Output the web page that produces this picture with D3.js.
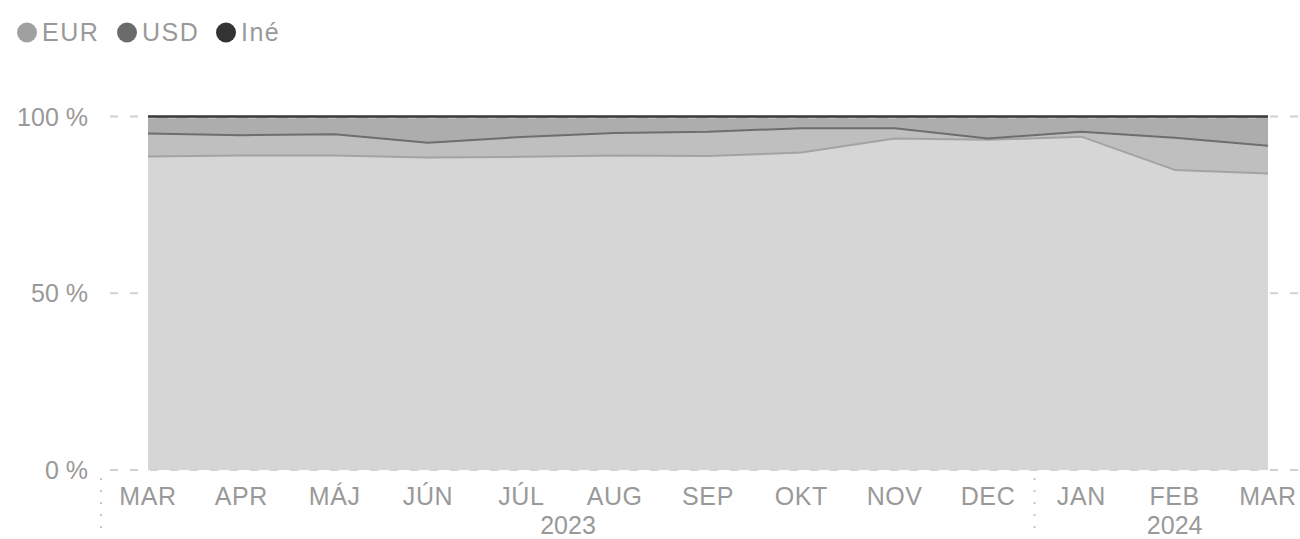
<!DOCTYPE html>
<html><head><meta charset="utf-8">
<script src="https://cdn.jsdelivr.net/npm/d3@7"></script>
<style>
html,body{margin:0;padding:0;background:#fff;}
svg{display:block;font-family:"Liberation Sans",Arial,sans-serif;}
</style></head>
<body><svg id="c" width="1300" height="539"></svg>
<script>
const months = ["MAR","APR","MÁJ","JÚN","JÚL","AUG","SEP","OKT","NOV","DEC","JAN","FEB","MAR"];
const years = [{label:"2023", from:0, to:9}, {label:"2024", from:10, to:12}];
const seriesNames = ["EUR","USD","Iné"];
const eur = [88.7, 89.0, 89.0, 88.4, 88.6, 89.0, 88.8, 89.8, 93.8, 93.4, 94.3, 84.9, 83.9];
const usd = [6.5, 5.7, 6.0, 4.2, 5.6, 6.3, 6.9, 6.9, 2.9, 0.4, 1.4, 9.1, 7.8];
const ine = [4.8, 5.3, 5.0, 7.4, 5.8, 4.7, 4.3, 3.3, 3.3, 6.2, 4.3, 6.0, 8.3];
const yTicks = [0, 50, 100];

const areaColors = ["#d6d6d6", "#bfbfbf", "#adadad"];
const lineColors = ["#a3a3a3", "#6e6e6e", "#3a3a3a"];
const dotColors = ["#a0a0a0", "#6b6b6b", "#333333"];
const textColor = "#999999";

const svg = d3.select("#c");
const rows = months.map((m, i) => ({i, EUR: eur[i], USD: usd[i], "Iné": ine[i]}));
const stack = d3.stack().keys(seriesNames).order(d3.stackOrderNone).offset(d3.stackOffsetNone);
const stacked = stack(rows);

const x = d3.scaleLinear().domain([0, months.length - 1]).range([148, 1268]);
const y = d3.scaleLinear().domain([0, 100]).range([470, 116.5]);

// gridlines
const grid = svg.append("g");
yTicks.forEach(t => {
  grid.append("line").attr("x1", 110).attr("x2", 1300).attr("y1", y(t)).attr("y2", y(t))
    .attr("stroke", "#d0d0d0").attr("stroke-width", 2).attr("stroke-dasharray", "8,12");
});

const area = d3.area().x((d, i) => x(i)).y0(d => y(d[0])).y1(d => y(d[1]));
const line = d3.line().x((d, i) => x(i)).y(d => y(d[1]));

svg.append("g").selectAll("path").data(stacked).join("path")
  .attr("d", area).attr("fill", (d, i) => areaColors[i]);

// 100% grid visible over top
svg.append("line").attr("x1", x(0)).attr("x2", x(12)).attr("y1", y(100)+1.5).attr("y2", y(100)+1.5)
  .attr("stroke", "#c4c4c4").attr("stroke-width", 1.5).attr("stroke-dasharray", "8,12");

svg.append("g").selectAll("path").data(stacked).join("path")
  .attr("d", line).attr("fill", "none").attr("stroke", (d, i) => lineColors[i])
  .attr("stroke-width", (d, i) => i === 2 ? 2.5 : 2).attr("stroke-linejoin", "round");

// y axis labels
svg.append("g").selectAll("text").data(yTicks).join("text")
  .attr("x", 88).attr("y", d => y(d) + 9).attr("text-anchor", "end")
  .attr("font-size", 25).attr("fill", textColor).text(d => d + " %");

// x labels
svg.append("g").selectAll("text").data(months).join("text")
  .attr("x", (d, i) => x(i)).attr("y", 505).attr("text-anchor", "middle")
  .attr("font-size", 25).attr("letter-spacing", 0.6).attr("fill", textColor).text(d => d);

// years
svg.append("g").selectAll("text").data(years).join("text")
  .attr("x", d => (x(d.from) + x(d.to)) / 2).attr("y", 534).attr("text-anchor", "middle")
  .attr("font-size", 25).attr("fill", textColor).text(d => d.label);

// year separators
const seps = [101, (x(9) + x(10)) / 2];
svg.append("g").selectAll("line").data(seps).join("line")
  .attr("x1", d => d).attr("x2", d => d).attr("y1", 478).attr("y2", 536)
  .attr("stroke", "#c8c8c8").attr("stroke-width", 2).attr("stroke-dasharray", "2,10");

// legend
const legendPos = [{cx: 27, tx: 42}, {cx: 127, tx: 142}, {cx: 226, tx: 241}];
const lg = svg.append("g");
seriesNames.forEach((s, i) => {
  lg.append("circle").attr("cx", legendPos[i].cx).attr("cy", 32.5).attr("r", 10).attr("fill", dotColors[i]);
  lg.append("text").attr("x", legendPos[i].tx).attr("y", 41).attr("font-size", 25)
    .attr("fill", textColor).attr("letter-spacing", 1.5).text(s);
});
</script></body></html>
